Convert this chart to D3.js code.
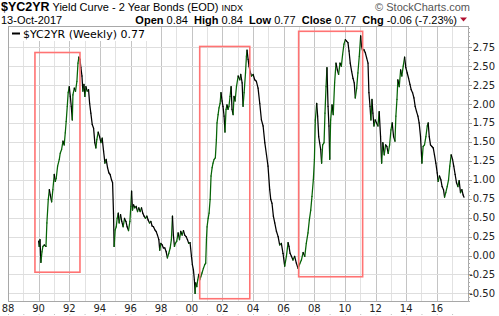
<!DOCTYPE html>
<html>
<head>
<meta charset="utf-8">
<script src="https://cdn.jsdelivr.net/npm/d3@7"></script>
<style>
  body { margin: 0; background: #fff; }
  svg { display: block; }
</style>
</head>
<body>
<svg id="chart" width="499" height="316"></svg>
<script>
// weekly closes of $YC2YR, [decimal year, value]
const yc1990s = [
  [1990.00,0.19],[1990.04,0.12],[1990.09,0.21],[1990.15,-0.09],[1990.22,0.05],[1990.28,0.12],
  [1990.37,0.14],[1990.48,0.12],[1990.54,0.43],[1990.63,0.74],[1990.70,0.87],[1990.76,0.80],
  [1990.85,0.71],[1990.93,0.87],[1991.02,1.07],[1991.09,0.98],[1991.15,1.02],[1991.24,1.18],
  [1991.35,1.27],[1991.41,1.35],[1991.50,1.40],[1991.59,1.51],[1991.67,1.46],[1991.74,1.62],
  [1991.80,1.77],[1991.87,1.97],[1991.93,2.15],[1992.00,2.23],[1992.07,2.10],[1992.13,1.97],
  [1992.20,1.79],[1992.24,2.12],[1992.33,2.21],[1992.41,2.17],[1992.50,2.30],[1992.57,2.54],
  [1992.63,2.62],[1992.70,2.59],[1992.76,2.48],[1992.83,2.37],[1992.89,2.17],[1992.96,2.26],
  [1993.02,2.10],[1993.09,2.23],[1993.17,2.17],[1993.26,2.19],[1993.33,2.01],[1993.41,1.88],
  [1993.50,1.73],[1993.59,1.68],[1993.67,1.49],[1993.74,1.42],[1993.80,1.53],[1993.89,1.63],
  [1993.98,1.57],[1994.07,1.49],[1994.15,1.55],[1994.24,1.38],[1994.33,1.22],[1994.41,1.27],
  [1994.50,1.16],[1994.59,1.09],[1994.67,1.07],[1994.76,1.00],[1994.83,0.96],[1994.89,0.56],
  [1994.93,0.12],[1995.00,0.34],[1995.07,0.38],[1995.13,0.49],[1995.20,0.56],[1995.26,0.43],
  [1995.35,0.54],[1995.43,0.45],[1995.52,0.38],[1995.61,0.49],[1995.70,0.45],[1995.78,0.38],
  [1995.87,0.33],[1995.96,0.45],[1996.02,0.65],[1996.07,0.85],[1996.13,0.60],[1996.20,0.67],
  [1996.28,0.63],[1996.37,0.65],[1996.46,0.58],[1996.54,0.63],[1996.63,0.58],[1996.72,0.63],
  [1996.80,0.56],[1996.89,0.52],[1996.98,0.49],[1997.07,0.52],[1997.15,0.47],[1997.24,0.43],
  [1997.33,0.45],[1997.41,0.39],[1997.50,0.38],[1997.59,0.34],[1997.67,0.32],[1997.76,0.27],
  [1997.85,0.21],[1997.91,0.07],[1997.98,0.16],[1998.07,0.14],[1998.15,0.10],[1998.24,0.10],
  [1998.33,0.05],[1998.41,-0.03],[1998.50,0.03],[1998.59,0.10],[1998.67,0.21],[1998.74,0.52],
  [1998.80,0.27],[1998.87,0.12],[1998.93,0.16],[1999.02,0.19],[1999.11,0.30],[1999.20,0.21],
  [1999.28,0.32],[1999.37,0.27],[1999.46,0.33],[1999.54,0.27],[1999.63,0.25],[1999.72,0.21],
  [1999.80,0.16],[1999.89,0.17],[1999.98,-0.01]
];
const yc2000s = [
  [2000.04,-0.12],[2000.11,-0.19],[2000.17,-0.32],[2000.22,-0.50],[2000.26,-0.36],[2000.33,-0.41],
  [2000.39,-0.32],[2000.46,-0.25],[2000.52,-0.32],[2000.59,-0.28],[2000.67,-0.23],[2000.76,-0.17],
  [2000.85,-0.12],[2000.91,-0.10],[2000.96,0.21],[2001.00,0.38],[2001.07,0.49],[2001.13,0.56],
  [2001.20,0.74],[2001.26,1.05],[2001.33,1.16],[2001.39,1.22],[2001.46,1.27],[2001.54,1.29],
  [2001.61,1.53],[2001.65,1.75],[2001.72,1.86],[2001.78,1.95],[2001.85,2.01],[2001.91,2.15],
  [2001.98,2.04],[2002.04,1.97],[2002.11,1.84],[2002.17,1.63],[2002.24,1.93],[2002.30,1.99],
  [2002.37,1.93],[2002.43,1.97],[2002.50,2.10],[2002.57,2.23],[2002.63,1.93],[2002.70,1.86],
  [2002.76,2.10],[2002.83,2.04],[2002.92,2.23],[2003.03,2.37],[2003.14,2.32],[2003.20,2.39],
  [2003.29,2.28],[2003.35,1.97],[2003.42,2.15],[2003.51,2.41],[2003.57,2.63],[2003.61,2.71],
  [2003.68,2.59],[2003.74,2.50],[2003.81,2.43],[2003.90,2.37],[2004.01,2.39],[2004.11,2.32],
  [2004.22,2.30],[2004.33,2.21],[2004.44,2.01],[2004.55,1.79],[2004.66,1.71],[2004.77,1.49],
  [2004.88,1.33],[2004.98,1.18],[2005.09,0.87],[2005.16,0.74],[2005.24,0.69],[2005.33,0.52],
  [2005.42,0.43],[2005.53,0.32],[2005.64,0.25],[2005.74,0.14],[2005.85,0.16],[2005.96,0.03],
  [2006.07,-0.14],[2006.18,-0.01],[2006.29,0.17],[2006.35,0.12],[2006.42,0.03],[2006.51,-0.01],
  [2006.61,-0.06],[2006.72,-0.01],[2006.83,-0.10],[2006.94,-0.17],[2007.05,-0.11],[2007.16,-0.06],
  [2007.27,0.04],[2007.38,-0.01],[2007.48,0.16],[2007.59,0.30],[2007.68,0.47],[2007.77,0.60],
  [2007.85,0.78],[2007.94,1.00],[2008.01,1.27],[2008.07,1.79],[2008.16,2.01],[2008.22,1.84],
  [2008.29,1.57],[2008.35,1.49],[2008.42,1.40],[2008.48,1.22],[2008.55,1.46],[2008.64,1.49],
  [2008.70,1.88],[2008.77,2.23],[2008.83,2.48],[2008.90,1.97],[2008.96,1.71],[2009.01,1.27],
  [2009.07,1.79],[2009.16,1.99],[2009.24,1.86],[2009.33,2.28],[2009.42,2.54],[2009.51,2.45],
  [2009.59,2.39],[2009.68,2.54],[2009.77,2.50],[2009.85,2.65],[2009.94,2.79]
];
const yc2010s = [
  [2010.03,2.85],[2010.11,2.83],[2010.20,2.81],[2010.27,2.70],[2010.35,2.54],[2010.44,2.43],
  [2010.53,2.34],[2010.61,2.28],[2010.68,2.08],[2010.77,2.21],[2010.85,2.41],[2010.94,2.63],
  [2011.03,2.90],[2011.09,2.76],[2011.16,2.70],[2011.24,2.72],[2011.33,2.68],[2011.42,2.61],
  [2011.51,2.54],[2011.57,2.15],[2011.64,1.97],[2011.70,1.79],[2011.77,2.06],[2011.83,1.88],
  [2011.90,1.71],[2011.98,1.79],[2012.07,1.75],[2012.16,1.71],[2012.24,1.90],[2012.33,1.57],
  [2012.40,1.22],[2012.48,1.49],[2012.57,1.33],[2012.66,1.46],[2012.74,1.44],[2012.83,1.35],
  [2012.92,1.46],[2013.01,1.66],[2013.09,1.75],[2013.18,1.57],[2013.27,1.51],[2013.33,1.84],
  [2013.40,2.06],[2013.46,2.32],[2013.55,2.23],[2013.64,2.45],[2013.72,2.37],[2013.81,2.50],
  [2013.90,2.62],[2013.98,2.48],[2014.07,2.41],[2014.16,2.34],[2014.25,2.26],[2014.33,2.19],
  [2014.42,2.15],[2014.51,2.08],[2014.59,1.97],[2014.68,1.90],[2014.77,1.84],[2014.85,1.75],
  [2014.94,1.57],[2015.03,1.22],[2015.11,1.44],[2015.20,1.46],[2015.29,1.57],[2015.38,1.71],
  [2015.44,1.75],[2015.51,1.57],[2015.59,1.46],[2015.68,1.44],[2015.77,1.42],[2015.85,1.33],
  [2015.94,1.22],[2016.03,1.09],[2016.09,0.98],[2016.18,1.05],[2016.27,1.00],[2016.35,0.91],
  [2016.44,0.87],[2016.51,0.77],[2016.59,0.83],[2016.68,0.91],[2016.77,1.00],[2016.85,1.18],
  [2016.94,1.33],[2017.03,1.27],[2017.11,1.18],[2017.20,1.07],[2017.29,0.96],[2017.38,0.91],
  [2017.46,0.99],[2017.55,0.83],[2017.64,0.87],[2017.72,0.80],[2017.78,0.77]
];

// red boxes drawn over the chart: [from year, to year, top value, bottom value]
const boxes = [
  [1989.76, 1992.70, 2.68, -0.22],
  [2000.52, 2003.79, 2.76, -0.57],
  [2006.98, 2011.16, 2.96, -0.28]
];

const xTickYears = d3.range(1988, 2017, 2);
const gridYears = d3.range(1988, 2018);
const yTicks = [-0.5, -0.25, 0, 0.25, 0.5, 0.75, 1, 1.25, 1.5, 1.75, 2, 2.25, 2.5, 2.75];

const quoteLabels = ['Open', 'High', 'Low', 'Close', 'Chg'];
const quoteValues = ['0.84', '0.84', '0.77', '0.77', '-0.06 (-7.23%)'];

const series = yc1990s.concat(yc2000s, yc2010s);

const svg = d3.select('#chart');
const plotLeft = 8, plotRight = 468, plotTop = 26, plotBottom = 301;
const axisFont = 'DejaVu Sans, Verdana, sans-serif';
const headFont = 'Liberation Sans, Arial, sans-serif';

const x = d3.scaleLinear().domain([1988, 2018.04]).range([plotLeft, plotRight]);
const y = d3.scaleLinear().domain([-0.6, 3.03]).range([plotBottom, plotTop]);

// grid
svg.append('g')
  .selectAll('line')
  .data(gridYears)
  .join('line')
  .attr('x1', d => Math.round(x(d)) + 0.5).attr('x2', d => Math.round(x(d)) + 0.5)
  .attr('y1', plotTop).attr('y2', plotBottom)
  .attr('stroke', d => d % 2 === 0 ? '#c4c4c4' : '#e2e2e2')
  .attr('stroke-width', 1);

svg.append('g')
  .selectAll('line')
  .data(yTicks)
  .join('line')
  .attr('x1', plotLeft).attr('x2', plotRight)
  .attr('y1', d => Math.round(y(d)) + 0.5).attr('y2', d => Math.round(y(d)) + 0.5)
  .attr('stroke', '#dedede')
  .attr('stroke-width', 1);

// price line: green when rising, black when falling
const segs = d3.pairs(series);
svg.append('g')
  .selectAll('line')
  .data(segs)
  .join('line')
  .attr('x1', d => x(d[0][0])).attr('y1', d => y(d[0][1]))
  .attr('x2', d => x(d[1][0])).attr('y2', d => y(d[1][1]))
  .attr('stroke', d => d[1][1] > d[0][1] ? '#066406' : '#000')
  .attr('stroke-width', 1.25)
  .attr('stroke-linecap', 'round');

// annotation boxes
svg.append('g')
  .selectAll('rect')
  .data(boxes)
  .join('rect')
  .attr('x', d => x(d[0]))
  .attr('y', d => y(d[2]))
  .attr('width', d => x(d[1]) - x(d[0]))
  .attr('height', d => y(d[3]) - y(d[2]))
  .attr('fill', 'none')
  .attr('stroke', '#ff7373')
  .attr('stroke-width', 1.6);

// plot frame
svg.append('rect')
  .attr('x', plotLeft + 0.5).attr('y', plotTop + 0.5)
  .attr('width', plotRight - plotLeft).attr('height', plotBottom - plotTop)
  .attr('fill', 'none')
  .attr('stroke', '#a8a8a8');

// right axis: small ticks
const minor = d3.range(-0.6, 3.03, 0.05);
svg.append('g')
  .selectAll('line')
  .data(minor)
  .join('line')
  .attr('x1', plotRight).attr('x2', plotRight + 2)
  .attr('y1', d => Math.round(y(d)) + 0.5).attr('y2', d => Math.round(y(d)) + 0.5)
  .attr('stroke', '#b0b0b0');
svg.append('g')
  .selectAll('line')
  .data(yTicks)
  .join('line')
  .attr('x1', plotRight).attr('x2', plotRight + 4)
  .attr('y1', d => Math.round(y(d)) + 0.5).attr('y2', d => Math.round(y(d)) + 0.5)
  .attr('stroke', '#999');

svg.append('g')
  .selectAll('text')
  .data(yTicks)
  .join('text')
  .attr('x', 495)
  .attr('y', d => y(d) + 3.5)
  .attr('text-anchor', 'end')
  .style('font', `10px ${axisFont}`)
  .attr('fill', '#222')
  .text(d => d.toFixed(2));

// bottom axis labels
svg.append('g')
  .selectAll('text')
  .data(xTickYears)
  .join('text')
  .attr('x', d => x(d))
  .attr('y', 312)
  .attr('text-anchor', 'middle')
  .style('font', `10px ${axisFont}`)
  .attr('fill', '#222')
  .text(d => String(d).slice(2));

svg.append('g')
  .selectAll('rect')
  .data(gridYears)
  .join('rect')
  .attr('x', d => x(d)).attr('y', 314)
  .attr('width', 1).attr('height', 1)
  .attr('fill', '#c0c0c0');

// legend
svg.append('rect')
  .attr('x', plotLeft + 1).attr('y', plotTop + 1)
  .attr('width', 146).attr('height', 14)
  .attr('fill', '#fff');
svg.append('line')
  .attr('x1', 12).attr('x2', 20).attr('y1', 33.5).attr('y2', 33.5)
  .attr('stroke', '#000').attr('stroke-width', 2);
svg.append('text')
  .attr('x', 23).attr('y', 37.5)
  .style('font', `11px ${axisFont}`)
  .attr('fill', '#000')
  .text('$YC2YR (Weekly) 0.77');

// header
const h1 = svg.append('text').attr('x', 1).attr('y', 10.5).style('font-family', headFont);
h1.append('tspan').style('font-weight', 'bold').style('font-size', '12.5px').text('$YC2YR');
h1.append('tspan').style('font-size', '11px').text(' Yield Curve - 2 Year Bonds (EOD) ');
h1.append('tspan').style('font-size', '9px').text('INDX');

svg.append('text')
  .attr('x', 470).attr('y', 10.5)
  .attr('text-anchor', 'end')
  .style('font', `11px ${headFont}`)
  .attr('fill', '#555')
  .text('\u00a9 StockCharts.com');

svg.append('text')
  .attr('x', 1).attr('y', 23.5)
  .style('font', `11px ${headFont}`)
  .text('13-Oct-2017');

const q = svg.append('text')
  .attr('x', 457).attr('y', 23.5)
  .attr('text-anchor', 'end')
  .attr('xml:space', 'preserve')
  .style('font-family', headFont).style('font-size', '11px');
quoteLabels.forEach((lab, i) => {
  q.append('tspan').style('font-weight', 'bold').text((i ? '  ' : '') + lab + ' ');
  q.append('tspan').text(quoteValues[i]);
});

svg.append('path')
  .attr('d', 'M460,17.5 L467,17.5 L463.5,21.5 Z')
  .attr('fill', '#b01030');
</script>
</body>
</html>
